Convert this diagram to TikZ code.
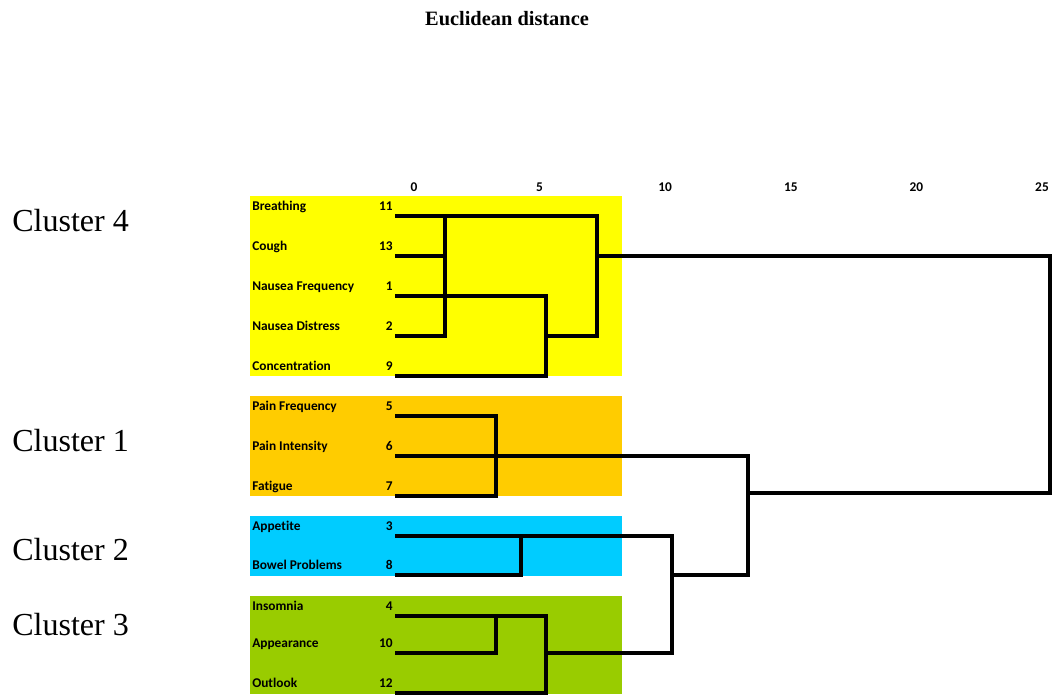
\documentclass[tikz,border=0pt]{standalone}
\usepackage{fontspec}
\setmainfont{Liberation Serif}
\newfontfamily\itemfont[Ligatures=NoCommon]{Carlito}
\usetikzlibrary{positioning}

\definecolor{clyellow}{HTML}{FFFF00}
\definecolor{clorange}{HTML}{FFCC00}
\definecolor{clcyan}{HTML}{00CCFF}
\definecolor{clgreen}{HTML}{99CC00}

\begin{document}
\begin{tikzpicture}[
    x=0.025cm, y=-0.025cm,
    item/.style={font=\itemfont\bfseries\fontsize{9.5}{11}\selectfont,inner sep=0pt,anchor=base west},
    num/.style={font=\itemfont\bfseries\fontsize{9.5}{11}\selectfont,inner sep=0pt,anchor=base east},
    tick/.style={font=\itemfont\bfseries\fontsize{9.5}{11}\selectfont,inner sep=0pt,anchor=base},
    cluster/.style={font=\fontsize{22.8}{27}\selectfont,inner sep=0pt,anchor=base west},
    branch/.style={line width=2.8pt,line join=miter}
]
\useasboundingbox (0,0) rectangle (1056,696);

% cluster backgrounds
\fill[clyellow] (250,196) rectangle (622,376);
\fill[clorange] (250,396) rectangle (622,496);
\fill[clcyan] (250,516) rectangle (622,576);
\fill[clgreen] (250,596) rectangle (622,694);

\node[font=\bfseries\fontsize{14.5}{17}\selectfont,inner sep=0pt,anchor=base] (title) at (507,26) {Euclidean distance};

\node[cluster] (cl4) at (12,231.5) {Cluster 4};
\node[cluster] (cl1) at (12,451.5) {Cluster 1};
\node[cluster] (cl2) at (12,560) {Cluster 2};
\node[cluster] (cl3) at (12,635) {Cluster 3};

% distance scale
\foreach \d in {0,5,...,25}
    \node[tick] (tick\d) at ({414+25.12*\d},191) {\d};

% leaves
\foreach \name/\n/\y in {Breathing/11/216, Cough/13/256, Nausea Frequency/1/296,
    Nausea Distress/2/336, Concentration/9/376, Pain Frequency/5/416,
    Pain Intensity/6/456, Fatigue/7/496, Appetite/3/536, Bowel Problems/8/575,
    Insomnia/4/616, Appearance/10/653, Outlook/12/693}
{
    \coordinate (l\n) at (395,\y);
    \node[item] (t\n) at (252,\y-5.5) {\name};
    \node[num] (n\n) at (393,\y-5.5) {\n};
}

% cluster 4
\draw[branch] (l11) -| (445,336) -- (l2);
\draw[branch] (l13) -- (445,256);
\draw[branch] (445,216) -| (597,336) -- (546,336);
\draw[branch] (l1) -| (546,376) -- (l9);
\draw[branch] (597,256) -- (1050,256) |- (748,493);

% cluster 1
\draw[branch] (l5) -| (496,496) -- (l7);
\draw[branch] (l6) -| (748,575) -- (672,575);

% cluster 2
\draw[branch] (l3) -| (672,653) -- (546,653);
\draw[branch] (l8) -| (521,536);

% cluster 3
\draw[branch] (l4) -| (496,653) -- (l10);
\draw[branch] (496,616) -| (546,693) -- (l12);

\end{tikzpicture}
\end{document}
